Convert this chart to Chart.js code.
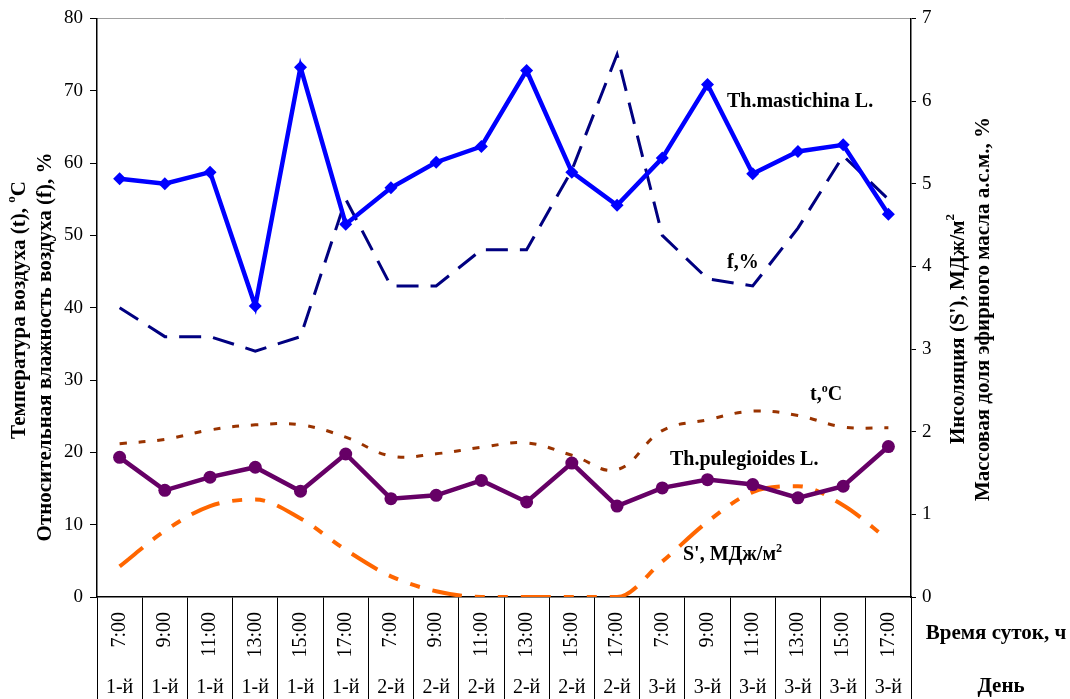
<!DOCTYPE html>
<html>
<head>
<meta charset="utf-8">
<script src="https://cdn.jsdelivr.net/npm/chart.js@4/dist/chart.umd.min.js"></script>
<style>
  html, body { margin: 0; padding: 0; background: #fff; }
  #wrap { width: 1070px; height: 699px; position: relative; }
</style>
</head>
<body>
<div id="wrap"><canvas id="chart"></canvas></div>
<script>
// Observation times and days
const times = ['7:00', '9:00', '11:00', '13:00', '15:00', '17:00',
               '7:00', '9:00', '11:00', '13:00', '15:00', '17:00',
               '7:00', '9:00', '11:00', '13:00', '15:00', '17:00'];
const days = ['1-й', '1-й', '1-й', '1-й', '1-й', '1-й',
              '2-й', '2-й', '2-й', '2-й', '2-й', '2-й',
              '3-й', '3-й', '3-й', '3-й', '3-й', '3-й'];

// Essential oil mass fraction, % (right axis)
const mastichina = [5.06, 5.00, 5.14, 3.52, 6.41, 4.51, 4.95, 5.26, 5.45,
                    6.37, 5.14, 4.74, 5.31, 6.20, 5.12, 5.39, 5.47, 4.63];
const pulegioides = [1.69, 1.29, 1.45, 1.57, 1.28, 1.73, 1.19, 1.23, 1.41,
                     1.15, 1.62, 1.10, 1.32, 1.42, 1.36, 1.20, 1.34, 1.82];
// Relative air humidity f, % (left axis)
const humidity = [40, 36, 36, 34, 36, 55, 43, 43, 48, 48, 59, 75, 50, 44, 43, 51, 61, 55];
// Air temperature t, °C (left axis)
const temperature = [21.2, 21.8, 23.1, 23.8, 23.8, 22.1, 19.5, 19.8, 20.7,
                     21.3, 19.6, 17.6, 23.0, 24.5, 25.7, 25.1, 23.5, 23.4];
// Insolation S', MJ/m² (right axis)
const insolation = [0.37, 0.80, 1.10, 1.18, 0.95, 0.57, 0.25, 0.07, 0, 0, 0, 0,
                    0.43, 0.91, 1.27, 1.34, 1.11, 0.69];

// Axis tick ranges
const leftTicks = { min: 0, max: 80, step: 10 };
const rightTicks = { min: 0, max: 7, step: 1 };

const SERIF = "'Liberation Serif', 'Times New Roman', serif";
Chart.defaults.font.family = SERIF;
Chart.defaults.color = '#000';

// Draws text made of normal and superscript pieces
function drawRich(ctx, parts, x, y, size, align) {
  const big = 'bold ' + size + 'px ' + SERIF;
  const small = 'bold ' + Math.round(size * 0.62) + 'px ' + SERIF;
  let total = 0;
  parts.forEach(p => { ctx.font = p.sup ? small : big; total += ctx.measureText(p.t).width; });
  let cx = align === 'center' ? x - total / 2 : x;
  ctx.textAlign = 'left';
  parts.forEach(p => {
    ctx.font = p.sup ? small : big;
    ctx.fillText(p.t, cx, p.sup ? y - size * 0.42 : y);
    cx += ctx.measureText(p.t).width;
  });
}

const textLayer = {
  id: 'textLayer',
  afterDraw(chart) {
    const ctx = chart.ctx;
    ctx.save();
    ctx.fillStyle = '#000';
    ctx.textBaseline = 'alphabetic';
    // series captions inside the plot
    drawRich(ctx, [{ t: 'Th.mastichina L.' }], 727, 107, 20, 'left');
    drawRich(ctx, [{ t: 'f,%' }], 727, 268, 20, 'left');
    drawRich(ctx, [{ t: 't,' }, { t: 'o', sup: true }, { t: 'C' }], 810, 400, 20, 'left');
    drawRich(ctx, [{ t: 'Th.pulegioides L.' }], 670, 465, 20, 'left');
    drawRich(ctx, [{ t: "S', МДж/м" }, { t: '2', sup: true }], 683, 560, 20, 'left');

    // bottom row captions
    ctx.textBaseline = 'middle';
    drawRich(ctx, [{ t: 'Время суток, ч' }], 996, 634, 21, 'center');
    drawRich(ctx, [{ t: 'День' }], 1001, 687, 21, 'center');

    // vertical axis titles
    const titles = [
      { x: 20, y: 310, parts: [{ t: 'Температура воздуха (t), ' }, { t: 'o', sup: true }, { t: 'C' }] },
      { x: 46, y: 347, parts: [{ t: 'Относительная влажность воздуха (f), %' }] },
      { x: 959, y: 329, parts: [{ t: "Инсоляция (S'), МДж/м" }, { t: '2', sup: true }] },
      { x: 984, y: 309, parts: [{ t: 'Массовая доля эфирного масла а.с.м., %' }] }
    ];
    titles.forEach(tt => {
      ctx.save();
      ctx.translate(tt.x, tt.y);
      ctx.rotate(-Math.PI / 2);
      drawRich(ctx, tt.parts, 0, 0, 21, 'center');
      ctx.restore();
    });
    ctx.restore();
  }
};

new Chart(document.getElementById('chart'), {
  type: 'line',
  data: {
    labels: times,
    datasets: [
      {
        label: 'Th.mastichina L.',
        data: mastichina,
        yAxisID: 'y1',
        borderColor: '#0000ff',
        backgroundColor: '#0000ff',
        borderWidth: 4.5,
        pointStyle: 'rectRot',
        pointRadius: 6.5,
        pointBorderWidth: 0,
        tension: 0
      },
      {
        label: 'Th.pulegioides L.',
        data: pulegioides,
        yAxisID: 'y1',
        borderColor: '#660066',
        backgroundColor: '#660066',
        borderWidth: 4.5,
        pointStyle: 'circle',
        pointRadius: 6.5,
        pointBorderWidth: 0,
        tension: 0
      },
      {
        label: 'f,%',
        data: humidity,
        yAxisID: 'y',
        borderColor: '#000080',
        borderWidth: 3,
        borderDash: [22, 12],
        pointRadius: 0,
        tension: 0
      },
      {
        label: 't,°C',
        data: temperature,
        yAxisID: 'y',
        borderColor: '#993300',
        borderWidth: 3,
        borderDash: [7, 12],
        pointRadius: 0,
        tension: 0.4
      },
      {
        label: "S', МДж/м²",
        data: insolation,
        yAxisID: 'y1',
        borderColor: '#ff6600',
        borderWidth: 4,
        borderDash: [30, 13, 10, 13, 10, 13],
        pointRadius: 0,
        cubicInterpolationMode: 'monotone'
      }
    ]
  },
  options: {
    responsive: true,
    maintainAspectRatio: false,
    animation: false,
    events: [],
    layout: { padding: { top: 17, right: 0, bottom: 0, left: 0 } },
    plugins: { legend: { display: false }, tooltip: { enabled: false } },
    scales: {
      x: {
        type: 'category',
        position: 'bottom',
        weight: 1,
        offset: true,
        grid: { display: true, drawOnChartArea: false, offset: true, tickLength: 102, color: '#000', lineWidth: 1 },
        border: { display: true, color: '#000', width: 1.5 },
        ticks: { autoSkip: false, minRotation: 90, maxRotation: 90, padding: -87, font: { size: 20 }, color: '#000' },
        afterFit(s) { s.height = 66; }
      },
      x2: {
        type: 'category',
        labels: days,
        position: 'bottom',
        weight: 2,
        offset: true,
        grid: { display: false, drawTicks: false },
        border: { display: false },
        ticks: { autoSkip: false, maxRotation: 0, minRotation: 0, padding: 13, font: { size: 20 }, color: '#000' },
        afterFit(s) { s.height = 36; }
      },
      xt: {
        type: 'category',
        labels: times,
        position: 'top',
        offset: true,
        grid: { display: false, drawTicks: false },
        border: { display: true, color: '#a0a0a0', width: 1 },
        ticks: { display: false },
        afterFit(s) { s.height = 0; }
      },
      y: {
        position: 'left',
        min: leftTicks.min,
        max: leftTicks.max,
        grid: { display: true, drawOnChartArea: false, tickLength: 7, color: '#000', lineWidth: 1 },
        border: { display: true, color: '#000', width: 1.5 },
        ticks: { stepSize: leftTicks.step, padding: 7, font: { size: 19 }, color: '#000' },
        afterFit(s) { s.width = 97; }
      },
      y1: {
        position: 'right',
        min: rightTicks.min,
        max: rightTicks.max,
        grid: { display: true, drawOnChartArea: false, tickLength: 5, color: '#000', lineWidth: 1 },
        border: { display: true, color: '#000', width: 1.5 },
        ticks: { stepSize: rightTicks.step, padding: 6, font: { size: 19 }, color: '#000' },
        afterFit(s) { s.width = 159; }
      }
    }
  },
  plugins: [textLayer]
});
</script>
</body>
</html>
